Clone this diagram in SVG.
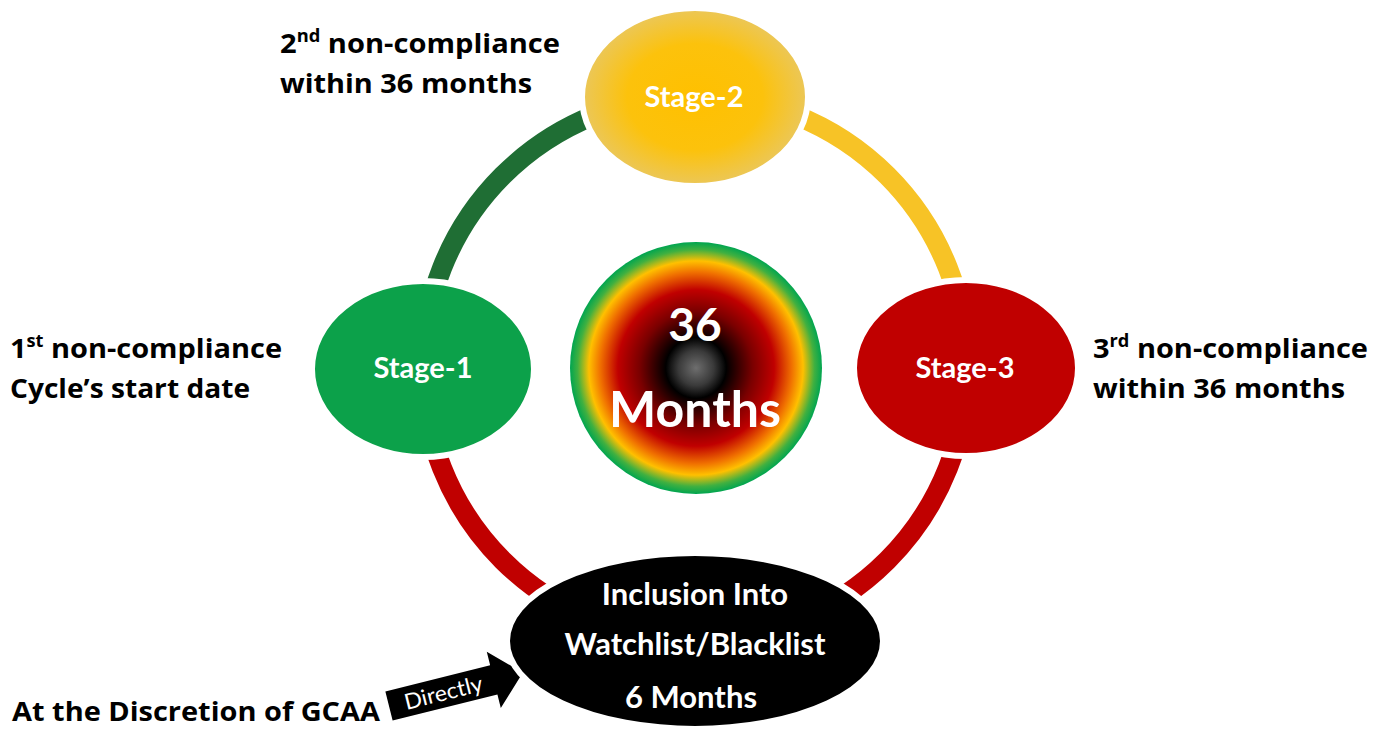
<svg xmlns="http://www.w3.org/2000/svg" width="1389" height="731" viewBox="0 0 1389 731">
<defs>
<radialGradient id="gCenter" cx="0.5" cy="0.5" r="0.5">
<stop offset="0" stop-color="#6e6e6e"/>
<stop offset="0.14" stop-color="#3a3a3a"/>
<stop offset="0.24" stop-color="#000000"/>
<stop offset="0.45" stop-color="#7a0000"/>
<stop offset="0.62" stop-color="#c00000"/>
<stop offset="0.76" stop-color="#f07000"/>
<stop offset="0.85" stop-color="#ffc000"/>
<stop offset="0.94" stop-color="#40b040"/>
<stop offset="1" stop-color="#00a550"/>
</radialGradient>
<radialGradient id="gStage2" cx="0.5" cy="0.5" r="0.5">
<stop offset="0" stop-color="#ffc000"/>
<stop offset="0.6" stop-color="#fcc20c"/>
<stop offset="1" stop-color="#ebc75a"/>
</radialGradient>
<style>
.ring{fill:none;stroke-width:20}
.node{stroke:#ffffff;stroke-width:6}
.lbl{font-family:Lato,"Liberation Sans",sans-serif;font-weight:bold;fill:#ffffff;text-anchor:middle}
.side{font-family:"Open Sans","Liberation Sans",sans-serif;font-weight:bold;fill:#000000;font-size:27px}
</style>
</defs>
<rect width="1389" height="731" fill="#ffffff"/>
<g id="connectors">
<path class="ring" stroke="#1f6e34" d="M 423 368 A 272 272 0 0 1 695 96"/>
<path class="ring" stroke="#f7c326" d="M 695 96 A 272 272 0 0 1 967 368"/>
<path class="ring" stroke="#c00000" d="M 967 368 A 272 272 0 0 1 695 640"/>
<path class="ring" stroke="#c00000" d="M 695 640 A 272 272 0 0 1 423 368"/>
<g id="directly-arrow" transform="translate(389 706) rotate(-14)">
<polygon points="0,-15 108,-15 108,-29 138,0 108,29 108,15 0,15" fill="#000000"/>
<text x="56" y="8" font-family="Lato,'Liberation Sans',sans-serif" font-size="22" fill="#ffffff" text-anchor="middle" textLength="80" lengthAdjust="spacingAndGlyphs">Directly</text>
</g>
</g>
<g id="center">
<circle cx="696" cy="368" r="126" fill="url(#gCenter)"/>
<text class="lbl" x="695" y="341" font-size="46">36</text>
<text class="lbl" x="695" y="427" font-size="50">Months</text>
</g>
<g id="stage2">
<ellipse class="node" cx="695" cy="97" rx="113" ry="89" fill="url(#gStage2)"/>
<text class="lbl" x="694" y="107" font-size="29">Stage-2</text>
</g>
<g id="stage1">
<ellipse class="node" cx="423" cy="369" rx="111" ry="88" fill="#0ca14a"/>
<text class="lbl" x="423" y="378" font-size="29">Stage-1</text>
</g>
<g id="stage3">
<ellipse class="node" cx="966" cy="368" rx="112" ry="88" fill="#c00000"/>
<text class="lbl" x="965" y="378" font-size="29">Stage-3</text>
</g>
<g id="watchlist">
<ellipse class="node" cx="695" cy="641" rx="188" ry="88" fill="#000000"/>
<text class="lbl" x="695" y="605" font-size="31">Inclusion Into</text>
<text class="lbl" x="695" y="655" font-size="31">Watchlist/Blacklist</text>
<text class="lbl" x="691" y="708" font-size="31">6 Months</text>
</g>
<g id="label-stage1">
<text class="side" x="10" y="358" textLength="272" lengthAdjust="spacingAndGlyphs">1<tspan font-size="17" dy="-11">st</tspan><tspan dy="11"> non-compliance</tspan></text>
<text class="side" x="10" y="398" textLength="240" lengthAdjust="spacingAndGlyphs">Cycle’s start date</text>
</g>
<g id="label-stage2">
<text class="side" x="280" y="53" textLength="280" lengthAdjust="spacingAndGlyphs">2<tspan font-size="17" dy="-11">nd</tspan><tspan dy="11"> non-compliance</tspan></text>
<text class="side" x="280" y="93" textLength="252" lengthAdjust="spacingAndGlyphs">within 36 months</text>
</g>
<g id="label-stage3">
<text class="side" x="1093" y="358" textLength="275" lengthAdjust="spacingAndGlyphs">3<tspan font-size="17" dy="-11">rd</tspan><tspan dy="11"> non-compliance</tspan></text>
<text class="side" x="1093" y="398" textLength="252" lengthAdjust="spacingAndGlyphs">within 36 months</text>
</g>
<g id="label-gcaa">
<text class="side" x="12" y="721" textLength="368" lengthAdjust="spacingAndGlyphs">At the Discretion of GCAA</text>
</g>
</svg>
